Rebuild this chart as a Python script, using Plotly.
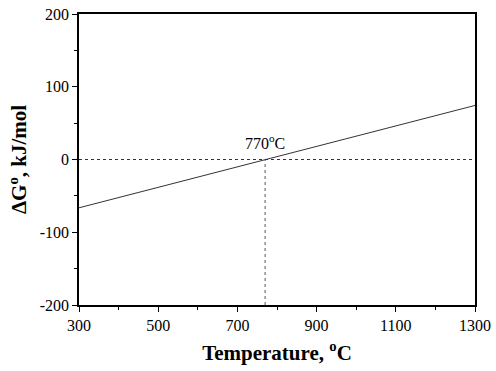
import plotly.graph_objects as go

temperature = [300, 1300]
delta_g = [-66.4, 74.3]
eq_temp = 770
x_ticks = [300, 500, 700, 900, 1100, 1300]
y_ticks = [-200, -100, 0, 100, 200]
y_tick_labels = ["-200", "-100", "0", "100", "200"]

fig = go.Figure()
fig.add_trace(go.Scatter(x=temperature, y=delta_g, mode="lines",
                         line=dict(color="#333333", width=1), showlegend=False))
fig.add_trace(go.Scatter(x=[temperature[0], temperature[1]], y=[0, 0], mode="lines",
                         line=dict(color="#333333", width=1, dash="dot"), showlegend=False))
fig.add_trace(go.Scatter(x=[eq_temp, eq_temp], y=[-200, 0], mode="lines",
                         line=dict(color="#555555", width=1, dash="dot"), showlegend=False))

fig.add_annotation(x=eq_temp, y=24, text="770<sup>o</sup>C", showarrow=False,
                   font=dict(family="Liberation Serif", size=16, color="black"))

axis_common = dict(showline=True, linecolor="black", linewidth=1.5, mirror=True,
                   showgrid=False, zeroline=False, ticks="outside", ticklen=5,
                   tickcolor="black", tickwidth=1.2, automargin=False,
                   tickfont=dict(family="Liberation Serif", size=16, color="black"))

fig.update_xaxes(range=[300, 1300], tickvals=x_ticks,
                 minor=dict(ticks="outside", ticklen=3, dtick=100, tick0=300, tickcolor="black"),
                 title=dict(text="<b>Temperature, <sup>o</sup>C</b>", standoff=12,
                            font=dict(family="Liberation Serif", size=21, color="black")),
                 **axis_common)
fig.update_yaxes(range=[-200, 200], tickvals=y_ticks, ticktext=y_tick_labels,
                 minor=dict(ticks="outside", ticklen=3, dtick=50, tick0=0, tickcolor="black"),
                 title=dict(text="<b>ΔG<sup>o</sup>, kJ/mol</b>", standoff=7,
                            font=dict(family="Liberation Serif", size=21, color="black")),
                 **axis_common)

fig.update_layout(width=496, height=371, plot_bgcolor="white", paper_bgcolor="white",
                  margin=dict(l=79, r=21, t=14, b=66))
fig.write_html("out.html", config={"displayModeBar": False},
               post_script="document.body.style.margin='0px';")
